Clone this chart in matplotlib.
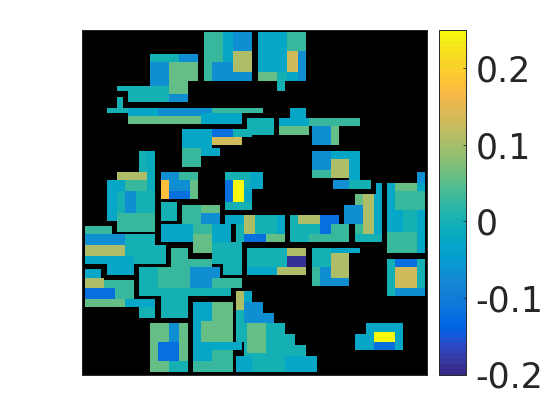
import numpy as np
import matplotlib
matplotlib.use("Agg")
import matplotlib.pyplot as plt
from matplotlib.colors import ListedColormap

# value levels
T, L, B, S = 0.003, -0.03, -0.07, -0.12
G, H, O, A = 0.025, 0.055, 0.105, 0.135
R, Y, N = 0.175, 0.25, -0.19
T2 = -0.015

GRID_CELLS = 63
vmin, vmax = -0.2, 0.25
tick_values = [-0.2, -0.1, 0, 0.1, 0.2]
tick_labels = ["-0.2", "-0.1", "0", "0.1", "0.2"]

# sparse matrix entries: first row, end row, first column, end column, value
patches_top = [
    (0, 9, 22, 31, G), (0, 5.5, 25.5, 27.5, L), (0, 3.5, 27.5, 31, B), (3.5, 7.5, 27.5, 31, O),
    (5.5, 9, 23.5, 27.5, B), (7.5, 9, 27.5, 31, B),
    (0, 7.5, 32, 37.5, L), (0, 3.5, 37.5, 41, G), (3.5, 7.5, 37.5, 39.5, A), (3.5, 9, 39.5, 41, B),
    (7.5, 9, 32, 35.5, H), (7.5, 9, 35.5, 37.5, T), (7.5, 9, 37.5, 39.5, L), (9, 11, 35.5, 37, T),
    (4, 5.5, 12, 17.5, T), (4, 5.5, 17.5, 21, B), (5.5, 10, 12, 15.5, B), (5.5, 9, 15.5, 21, H),
    (9, 11.5, 15.5, 19, H), (10, 11, 6, 12, T), (10, 13, 12, 15.5, T), (11, 13, 8, 12, T),
    (11.5, 13, 15.5, 19, B), (12, 14, 6, 7, T),
    (14, 15, 4, 8, T), (14, 15.5, 8, 13.5, L), (14, 15.5, 13.5, 23.5, B), (14, 15, 23.5, 33, G),
    (15, 17, 21.5, 29, L), (15.5, 17, 8, 21.5, H),
    (16, 19, 30, 35, T), (18, 19.5, 27.5, 31, T),
    (18, 21.5, 18, 23.5, L), (18, 19.5, 23.5, 27.5, S), (19.5, 21, 23.5, 29, A),
    (21.5, 25, 18, 21.5, G), (21.5, 23, 21.5, 25, L),
    (14, 16, 38, 41, L), (16, 17.5, 36, 41.5, L), (16, 17.5, 41.5, 51, G), (17.5, 19, 36, 41.5, H),
    (17.5, 21, 42, 45.5, B), (17.5, 21, 45.5, 47, H),
    (22, 25.5, 42, 45.5, B), (22, 23.5, 45.5, 51, L), (23.5, 27.5, 49, 51, L), (23.5, 27, 45.5, 49, O),
    (25.5, 27, 42, 45.5, G), (27.5, 29, 46, 49, B), (27.5, 29, 49, 53, T),
]
patches_left = [
    (22, 26, 10, 13, T), (22, 29.5, 11.5, 13, T2), (26, 27.5, 6, 11.5, O),
    (27.5, 35, 4, 6, L), (27.5, 29.5, 6, 7.5, L), (27.5, 29.5, 7.5, 11.5, G), (29.5, 34, 6, 7.5, T),
    (29.5, 33.5, 7.5, 9.5, B), (29.5, 33.5, 9.5, 13, T), (33.5, 37, 6, 13, G),
    (26, 27.5, 14, 17.5, B), (26, 27.5, 17.5, 21, G), (27.5, 31, 14, 15.5, R),
    (27.5, 29.5, 15.5, 19.5, B), (29.5, 31, 15.5, 19.5, S), (27.5, 31, 19.5, 21, H),
    (31.5, 35, 14, 17, T),
    (26, 29, 26, 33, T), (26, 29, 30.5, 33, L), (29, 33, 26, 31, T), (29, 31.5, 29.5, 31, L),
    (27.5, 31.5, 26, 27.5, S), (27.5, 31.5, 27.5, 29.5, Y),
    (32, 35.5, 18, 25, G), (32, 33.5, 21.5, 25, H), (33.5, 35.5, 21.5, 25, B),
    (35.5, 39, 14, 20, L), (35.5, 37.5, 20, 23.5, G), (35.5, 39, 23.5, 27, L),
    (37.5, 41, 20, 23.5, H), (39, 43, 23.5, 25.5, T), (39, 45, 25.5, 29, T),
    (36, 37.5, 0, 5, G), (37.5, 39.5, 0, 7.5, B), (39.5, 41.5, 0, 7.5, O), (37.5, 39.5, 7.5, 13, T),
    (39.5, 43, 7.5, 15, T), (41.5, 43, 0, 9, L), (43, 45, 4, 9, L),
    (44, 45.5, 0, 3, L), (45.5, 47.5, 0, 3.5, O), (46, 51, 3.5, 9, G), (47.5, 49.5, 0, 5.5, S),
    (49.5, 51, 0, 7.5, H), (49.5, 51, 7.5, 13, L), (51, 53, 10, 13, T),
    (40, 43.5, 16, 19, G), (42, 43.5, 19, 23.5, G),
    (43.5, 45.5, 10, 25, T), (45.5, 47.5, 10, 29, T), (47.5, 49, 10, 27, T), (49, 53, 14, 19, T),
    (43.5, 47.5, 13.5, 19.5, G), (43.5, 47.5, 19.5, 23.5, B), (43.5, 45.5, 23.5, 25, B),
    (45.5, 47.5, 23.5, 29, G),
    (54, 63, 12, 19, H), (54, 57.5, 15.5, 17.5, B), (57.5, 61, 13.5, 17.5, S), (61, 63, 15.5, 19, T),
    (50, 63, 20, 27.5, H), (50, 53.5, 20, 23.5, L), (53.5, 57.5, 20, 21.5, L), (57.5, 59, 20, 29, L),
    (59, 61, 20, 23.5, L), (61, 63, 20, 23.5, G), (59, 63, 23.5, 27.5, G),
]
patches_right = [
    (48, 50, 28, 31, T), (50, 52, 28, 33, T), (52, 54, 28, 35, T), (54, 56, 28, 37, T),
    (56, 57.5, 28, 39, T), (57.5, 59, 29.5, 39, T), (59, 60, 29.5, 41, T), (58, 59, 39, 41, T),
    (60, 63, 28, 43, T), (48, 51.5, 28, 29.5, O), (48, 50, 29.5, 31, L),
    (50, 52, 29.5, 33, B), (52, 54, 29.5, 35, B), (54, 59.5, 30, 33.5, H),
    (60, 63, 37, 43, L), (60, 63, 28, 31, L),
    (34, 39, 28, 37, T), (34, 35.5, 26, 29.5, L), (34, 37.5, 29.5, 31.5, O), (34, 37.5, 35.5, 37, L),
    (37.5, 39, 29.5, 33.5, S), (37.5, 39, 33.5, 37, H),
    (34, 35.5, 38, 47, T), (35.5, 39, 38, 49, T), (34, 35.5, 39.5, 43.5, O), (34, 35.5, 43.5, 47, S),
    (35.5, 37.5, 43.5, 45.5, S), (35.5, 39, 45.5, 49, G), (37.5, 39, 41.5, 45.5, G),
    (40, 45, 30, 41, T), (40, 41.5, 37.5, 41, O), (41.5, 43.5, 37.5, 41, N), (43.5, 45, 35.5, 41, O),
    (43.5, 45, 30, 35.5, L),
    (40, 47, 42, 49, L), (40, 41, 49, 51, L), (40, 43.5, 42, 45.5, T), (41, 45.5, 45.5, 49, O),
    (43.5, 47, 42, 43.5, G), (43.5, 47, 43.5, 45.5, B), (45.5, 47, 45.5, 49, B),
    (28, 30, 54, 55, L), (30, 39, 50, 55, L), (30, 37.5, 51.5, 53.5, O), (30, 32, 50, 51.5, H),
    (32, 35.5, 48, 51.5, B), (35.5, 37.5, 50, 51.5, G), (37.5, 39, 50, 55, T),
    (28, 41, 56, 63, T), (26, 28, 61.5, 63, B), (28, 37, 56, 57.5, L), (28, 29.5, 57.5, 61.5, H),
    (28, 29.5, 61.5, 63, L), (29.5, 33, 57.5, 61.5, G), (29.5, 33, 61.5, 63, G),
    (33, 37, 57.5, 59, L), (33, 37, 59, 61.5, T), (33, 41, 61.5, 63, L), (37, 41, 56, 61.5, G),
    (42, 49, 56, 63, T), (42, 43.5, 57.5, 61.5, S), (43.5, 47.5, 57.5, 61.5, A),
    (47.5, 49, 57.5, 63, B),
    (54, 59, 52, 59, L), (56, 59, 50, 52, L), (55.5, 57.5, 53.5, 57.5, Y), (57.5, 59, 53.5, 57.5, S),
]

parula_rgb = [
    [0.2081, 0.1663, 0.5292], [0.2116, 0.1898, 0.5777], [0.2123, 0.2138, 0.6270], [0.2081, 0.2386, 0.6771],
    [0.1959, 0.2645, 0.7279], [0.1707, 0.2919, 0.7792], [0.1253, 0.3242, 0.8303], [0.0591, 0.3598, 0.8683],
    [0.0117, 0.3875, 0.8820], [0.0060, 0.4086, 0.8828], [0.0165, 0.4266, 0.8786], [0.0329, 0.4430, 0.8720],
    [0.0498, 0.4586, 0.8641], [0.0629, 0.4737, 0.8554], [0.0723, 0.4887, 0.8467], [0.0779, 0.5040, 0.8384],
    [0.0793, 0.5200, 0.8312], [0.0749, 0.5375, 0.8263], [0.0641, 0.5570, 0.8240], [0.0488, 0.5772, 0.8228],
    [0.0343, 0.5966, 0.8199], [0.0265, 0.6137, 0.8135], [0.0239, 0.6287, 0.8038], [0.0231, 0.6418, 0.7913],
    [0.0228, 0.6535, 0.7768], [0.0267, 0.6642, 0.7607], [0.0384, 0.6743, 0.7436], [0.0590, 0.6838, 0.7254],
    [0.0843, 0.6928, 0.7062], [0.1133, 0.7015, 0.6859], [0.1453, 0.7098, 0.6646], [0.1801, 0.7177, 0.6424],
    [0.2178, 0.7250, 0.6193], [0.2586, 0.7317, 0.5954], [0.3022, 0.7376, 0.5712], [0.3482, 0.7424, 0.5473],
    [0.3953, 0.7459, 0.5244], [0.4420, 0.7481, 0.5033], [0.4871, 0.7491, 0.4840], [0.5300, 0.7491, 0.4661],
    [0.5709, 0.7485, 0.4494], [0.6099, 0.7473, 0.4337], [0.6473, 0.7456, 0.4188], [0.6834, 0.7435, 0.4044],
    [0.7184, 0.7411, 0.3905], [0.7525, 0.7384, 0.3768], [0.7858, 0.7356, 0.3633], [0.8185, 0.7327, 0.3498],
    [0.8507, 0.7299, 0.3360], [0.8824, 0.7274, 0.3217], [0.9139, 0.7258, 0.3063], [0.9450, 0.7261, 0.2886],
    [0.9739, 0.7314, 0.2666], [0.9938, 0.7455, 0.2403], [0.9990, 0.7653, 0.2164], [0.9955, 0.7861, 0.1967],
    [0.9880, 0.8066, 0.1794], [0.9789, 0.8271, 0.1633], [0.9697, 0.8481, 0.1475], [0.9626, 0.8705, 0.1309],
    [0.9589, 0.8949, 0.1132], [0.9598, 0.9218, 0.0948], [0.9661, 0.9514, 0.0755], [0.9763, 0.9831, 0.0538],
]
cmap = ListedColormap(parula_rgb).with_extremes(bad="black")

matrix = np.full((GRID_CELLS * 2, GRID_CELLS * 2), np.nan)
for r0, r1, c0, c1, value in patches_top + patches_left + patches_right:
    matrix[int(2 * r0):int(2 * r1), int(2 * c0):int(2 * c1)] = value

W, H_PX = 560, 420
fig = plt.figure(figsize=(W / 100, H_PX / 100), dpi=100, facecolor="white")
ax = fig.add_axes([82 / W, 1 - 374.5 / H_PX, 345 / W, 344.5 / H_PX], facecolor="black")
im = ax.imshow(np.ma.masked_invalid(matrix), cmap=cmap, vmin=vmin, vmax=vmax,
               extent=(0, GRID_CELLS, GRID_CELLS, 0), interpolation="nearest", aspect="auto")
ax.set_xlim(-0.5, 63.5)
ax.set_ylim(63.39, -0.61)
ax.set_xticks([])
ax.set_yticks([])
for spine in ax.spines.values():
    spine.set_color("#262626")
    spine.set_linewidth(0.7)

cax = fig.add_axes([439 / W, 1 - 374.5 / H_PX, 27 / W, 344.5 / H_PX])
cbar = fig.colorbar(im, cax=cax)
cbar.set_ticks(tick_values, labels=tick_labels)
cbar.ax.tick_params(direction="in", length=2.5, width=0.6, color="#262626", labelcolor="#262626",
                    labelsize=25, pad=7)
cbar.outline.set_edgecolor("#262626")
cbar.outline.set_linewidth(0.7)

fig.savefig("out.png", dpi=100, facecolor="white")
